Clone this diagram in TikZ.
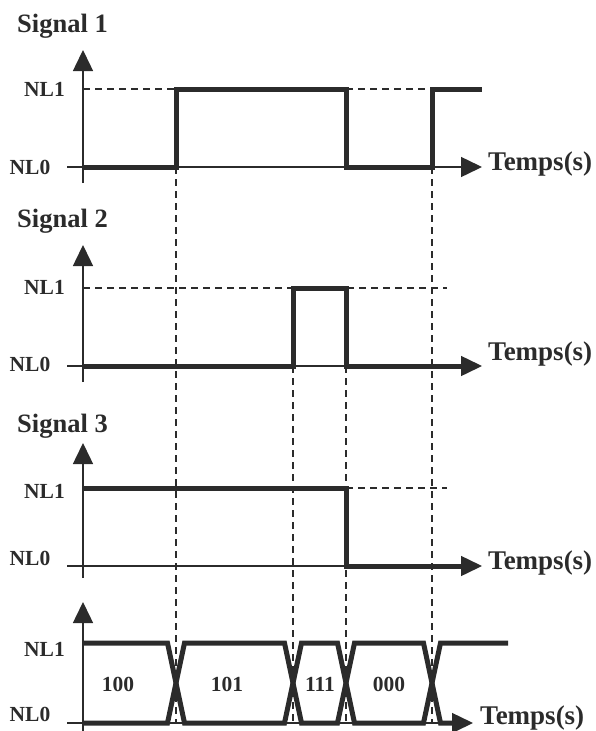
\documentclass[tikz,border=0pt]{standalone}
\usepackage{fontspec}
\setmainfont{Liberation Serif}
\usetikzlibrary{arrows.meta}
\definecolor{ink}{HTML}{2B2B2B}
\begin{document}
\begin{tikzpicture}[x=1pt,y=-1pt,
  axis/.style={draw=ink,line width=1.5pt},
  axtip/.style={axis,-{Triangle[length=21pt,width=20pt]}},
  wave/.style={draw=ink,line width=5pt,line join=miter},
  guide/.style={draw=ink,line width=1.3pt,dash pattern=on 7pt off 5pt},
  title/.style={font=\fontsize{26.5}{28}\selectfont\bfseries,text=ink,inner sep=0pt,anchor=base west},
  level/.style={font=\fontsize{21.5}{24}\selectfont\bfseries,text=ink,inner sep=0pt},
  tlabel/.style={font=\fontsize{27}{28}\selectfont\bfseries,text=ink,inner sep=0pt,anchor=west},
  code/.style={font=\fontsize{21.5}{24}\selectfont\bfseries,text=ink,inner sep=0pt}]
\useasboundingbox (0,0) rectangle (595,731);

% ---- dashed guides (behind) ----
\draw[guide] (176,167) -- (176,723);
\draw[guide] (432,167) -- (432,723);
\draw[guide] (293,366) -- (293,723);
\draw[guide] (346,366) -- (346,723);
\draw[guide] (83,89) -- (176,89);
\draw[guide] (346,89) -- (432,89);
\draw[guide] (83,288) -- (447,288);
\draw[guide] (346,488) -- (447,488);

% ---- Signal 1 ----
\node[title] (t1) at (17,32) {Signal 1};
\node[level] (s1h) at (44.5,89) {NL1};
\node[level] (s1l) at (30,167) {NL0};
\draw[axtip] (83,183) -- (83,50);
\draw[axtip] (67,167) -- (482,167);
\node[tlabel] (s1t) at (488,164) {Temps(s)};
\draw[wave] (84,167) -- (176,167) -- (176,89) -- (346,89) -- (346,167) -- (432,167) -- (432,89) -- (482,89);

% ---- Signal 2 ----
\node[title] (t2) at (17,227) {Signal 2};
\node[level] (s2h) at (44.5,287) {NL1};
\node[level] (s2l) at (30,364) {NL0};
\draw[axtip] (83,382) -- (83,245);
\draw[axtip] (67,366) -- (482,366);
\node[tlabel] (s2t) at (488,354) {Temps(s)};
\draw[wave] (84,366) -- (293,366) -- (293,288) -- (346,288) -- (346,366) -- (462,366);

% ---- Signal 3 ----
\node[title] (t3) at (17,432) {Signal 3};
\node[level] (s3h) at (44.5,491) {NL1};
\node[level] (s3l) at (30,558) {NL0};
\draw[axtip] (83,578) -- (83,443);
\draw[axtip] (67,566) -- (482,566);
\node[tlabel] (s3t) at (488,563) {Temps(s)};
\draw[wave] (84,488) -- (346,488) -- (346,566) -- (462,566);

% ---- Bus ----
\node[level] (bh) at (44.5,649) {NL1};
\node[level] (bl) at (30,714) {NL0};
\draw[axtip] (83,731) -- (83,602);
\draw[axtip] (67,723) -- (473,723);
\node[tlabel] (bt) at (480,718) {Temps(s)};
\draw[wave] (84,643) -- (167.5,643) -- (184.5,723) -- (284.5,723) -- (301.5,643) -- (337.5,643) -- (354.5,723) -- (423.5,723) -- (440.5,643) -- (508,643);
\draw[wave] (84,723) -- (167.5,723) -- (184.5,643) -- (284.5,643) -- (301.5,723) -- (337.5,723) -- (354.5,643) -- (423.5,643) -- (440.5,723) -- (455,723);
\node[code] (c1) at (118,684) {100};
\node[code] (c2) at (227,684) {101};
\node[code] (c3) at (320,684) {111};
\node[code] (c4) at (389,684) {000};
\end{tikzpicture}
\end{document}
